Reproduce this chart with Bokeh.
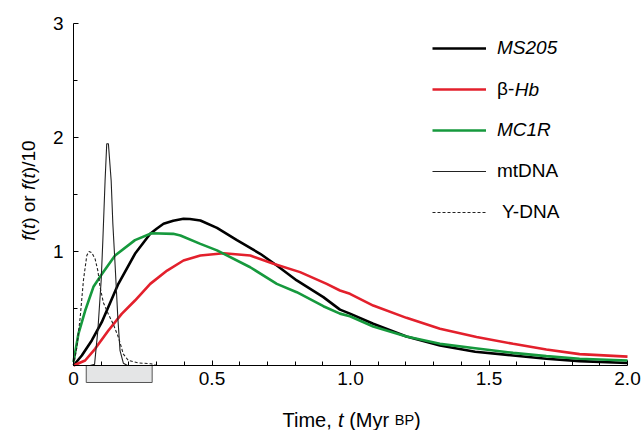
import math
from bokeh.plotting import figure
from bokeh.models import Range1d, FixedTicker, Label, Legend, LegendItem
from bokeh.embed import file_html
from bokeh.resources import INLINE

# ---------------- data ----------------
ms205_t = [0, 0.03, 0.066, 0.102, 0.162, 0.222, 0.277, 0.30, 0.325, 0.36, 0.397, 0.42, 0.458,
           0.518, 0.59, 0.674, 0.734, 0.806, 0.902, 0.962, 0.998, 1.082, 1.202, 1.323, 1.45,
           1.587, 1.707, 1.827, 2.0]
ms205_f = [0, 0.088, 0.22, 0.38, 0.717, 0.98, 1.155, 1.2, 1.243, 1.27, 1.287, 1.285, 1.272,
           1.207, 1.10, 0.98, 0.877, 0.746, 0.60, 0.49, 0.455, 0.366, 0.255, 0.175, 0.12,
           0.088, 0.059, 0.038, 0.022]

hb_t = [0, 0.042, 0.078, 0.126, 0.174, 0.222, 0.277, 0.338, 0.397, 0.458, 0.542, 0.638, 0.722,
        0.818, 0.914, 0.962, 0.998, 1.082, 1.202, 1.323, 1.455, 1.587, 1.707, 1.827, 2.0]
hb_f = [0, 0.044, 0.146, 0.307, 0.453, 0.57, 0.716, 0.833, 0.921, 0.965, 0.985, 0.965, 0.892,
        0.819, 0.716, 0.658, 0.629, 0.526, 0.418, 0.322, 0.25, 0.19, 0.14, 0.10, 0.078]

mc1r_t = [0, 0.018, 0.042, 0.072, 0.102, 0.150, 0.222, 0.282, 0.36, 0.386, 0.458, 0.518, 0.638,
          0.734, 0.806, 0.902, 0.962, 0.998, 1.082, 1.202, 1.323, 1.45, 1.587, 1.707, 1.827, 2.0]
mc1r_f = [0.03, 0.28, 0.48, 0.69, 0.80, 0.965, 1.10, 1.16, 1.155, 1.14, 1.067, 1.01, 0.862,
          0.716, 0.643, 0.52, 0.455, 0.432, 0.342, 0.255, 0.19, 0.152, 0.111, 0.082, 0.059, 0.044]

mt_t = [0.06, 0.076, 0.088, 0.10, 0.106, 0.114, 0.12, 0.126, 0.136, 0.142, 0.15, 0.16, 0.168,
        0.18, 0.195, 0.30]
mt_f = [0, 0.01, 0.31, 0.75, 1.1, 1.62, 1.945, 1.945, 1.62, 1.245, 0.89, 0.42, 0.13, 0.02, 0, 0]

y_t = [0, 0.012, 0.024, 0.036, 0.048, 0.056, 0.066, 0.078, 0.088, 0.096, 0.108, 0.126, 0.144,
       0.162, 0.18, 0.198, 0.234, 0.28, 0.30]
y_f = [0, 0.16, 0.42, 0.75, 0.965, 1.0, 0.99, 0.935, 0.83, 0.687, 0.55, 0.45, 0.36, 0.248,
       0.10, 0.044, 0.023, 0.015, 0]

bar_start = [0.046]
bar_end = [0.284]

x_ticks = [0, 0.5, 1.0, 1.5, 2.0]
x_tick_labels = ["0", "0.5", "1.0", "1.5", "2.0"]
x_minor = [0.1, 0.2, 0.3, 0.4, 0.6, 0.7, 0.8, 0.9, 1.1, 1.2, 1.3, 1.4, 1.6, 1.7, 1.8, 1.9]
y_ticks = [1, 2, 3]
y_minor = [0, 0.5, 1.5, 2.5]

series_labels = ["MS205", "β-", "MC1R", "mtDNA", " Y-DNA"]

# ---------------- layout (pixels) ----------------
W_PX, H_PX = 642, 430
X0_PX, X2_PX = 73, 627      # screen x of t=0 and t=2
Y0_PX, Y3_PX = 365, 23      # screen y of f=0 and f=3
sx = (X2_PX - X0_PX) / 2.0
sy = (Y0_PX - Y3_PX) / 3.0
x_range = Range1d(-X0_PX / sx, 2 + (W_PX - X2_PX) / sx)
y_range = Range1d(-(H_PX - Y0_PX) / sy, 3 + Y3_PX / sy)

FONT = "Liberation Sans"
p = figure(width=W_PX, height=H_PX, output_backend="svg", toolbar_location=None,
           x_range=x_range, y_range=y_range,
           min_border_left=0, min_border_right=0, min_border_top=0, min_border_bottom=0)
p.outline_line_color = None
p.grid.visible = False

xa = p.xaxis[0]
xa.fixed_location = 0
xa.bounds = (0, 2)
xa.ticker = FixedTicker(ticks=x_ticks, minor_ticks=x_minor)
xa.major_label_overrides = {t: l for t, l in zip(x_ticks, x_tick_labels)}
ya = p.yaxis[0]
ya.fixed_location = 0
ya.bounds = (0, 3)
ya.ticker = FixedTicker(ticks=y_ticks, minor_ticks=y_minor)
for ax in (xa, ya):
    ax.axis_line_color = "black"
    ax.axis_line_width = 1
    ax.major_tick_line_color = "black"
    ax.minor_tick_line_color = "black"
    ax.major_tick_in = 5
    ax.major_tick_out = 0
    ax.minor_tick_in = 4
    ax.minor_tick_out = 0
    ax.major_label_text_font = FONT
    ax.major_label_text_font_size = "19px"
    ax.major_label_text_color = "black"
xa.major_label_standoff = 6
ya.major_label_standoff = 10

p.quad(left=bar_start, right=bar_end, bottom=[-0.149] * len(bar_start), top=[0] * len(bar_start),
       fill_color="#e4e5e6", line_color="#555555", line_width=1)

r_ms = p.line(ms205_t, ms205_f, line_color="black", line_width=2.6)
r_hb = p.line(hb_t, hb_f, line_color="#e3202c", line_width=2.6)
r_mc = p.line(mc1r_t, mc1r_f, line_color="#16993d", line_width=2.6)
r_mt = p.line(mt_t, mt_f, line_color="#222222", line_width=1.1)
r_y = p.line(y_t, y_f, line_color="#222222", line_width=1.1, line_dash="3 2")

# ---------------- legend ----------------
legend_rows = [47.7, 88.7, 129.7, 170.7, 211.7]   # screen y of each legend row
styles = ["italic", "normal", "italic", "normal", "normal"]
for lab, rend, yy, st in zip(series_labels, [r_ms, r_hb, r_mc, r_mt, r_y], legend_rows, styles):
    lg = Legend(items=[LegendItem(label=lab, renderers=[rend])], location=(432, H_PX - yy - 15),
                padding=0, margin=0, spacing=0, border_line_color=None,
                background_fill_alpha=0, glyph_width=54, glyph_height=30, label_height=30,
                label_standoff=11, label_text_font=FONT, label_text_font_size="19px",
                label_text_font_style=st, label_text_color="black")
    p.add_layout(lg)

p.add_layout(Label(x=514.2, y=H_PX - legend_rows[1], x_units="screen", y_units="screen",
                   text="Hb", text_font=FONT, text_font_size="19px", text_font_style="italic",
                   text_baseline="middle", text_align="left", text_color="black"))

# ---------------- axis titles as text runs ----------------
W = {" ": 278, "(": 333, ")": 333, ",": 278, "-": 333, "/": 278, "0": 556, "1": 556,
     "B": 667, "P": 667, "T": 611, "M": 833, "e": 556, "f": 278, "i": 222, "m": 833,
     "o": 556, "r": 333, "t": 278, "y": 500}


def width(s, sz):
    return sum(W.get(c, 556) for c in s) * sz / 1000.0


def runs(parts, x0, y0, angle=0.0):
    pos = 0.0
    for text, style, sz in parts:
        lead = len(text) - len(text.lstrip(" "))
        pos += width(" " * lead, sz)
        body = text.strip(" ")
        lx, ly = (x0 + pos, y0) if angle == 0 else (x0, y0 + pos)
        p.add_layout(Label(x=lx, y=ly, x_units="screen", y_units="screen", text=body,
                           angle=angle, text_font=FONT, text_font_size=f"{sz}px",
                           text_font_style=style, text_baseline="alphabetic",
                           text_align="left", text_color="black"))
        pos += width(text.lstrip(" "), sz)


runs([("Time, ", "normal", 20), ("t", "italic", 20), (" (Myr ", "normal", 20),
      ("BP", "normal", 14.5), (")", "normal", 20)], 282, H_PX - 419.5)

runs([("f", "italic", 19), ("(", "normal", 19), ("t", "italic", 19), (") or ", "normal", 19),
      ("f", "italic", 19), ("(", "normal", 19), ("t", "italic", 19), (")/10", "normal", 19)],
     28, H_PX - 240.2, angle=math.pi / 2)

open("out.html", "w").write(file_html(p, INLINE))
